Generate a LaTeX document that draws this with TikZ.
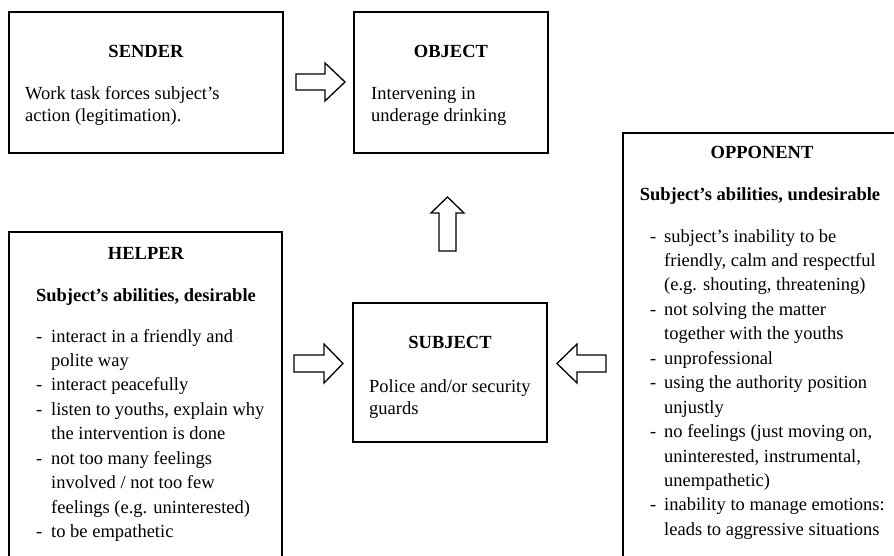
\documentclass[tikz,border=0pt]{standalone}
\usepackage{fontspec}
\setmainfont{Liberation Serif}
\begin{document}
\begin{tikzpicture}[x=1pt,y=-1pt,
  box/.style={draw, line width=1.5pt, rectangle, inner sep=0pt},
  txt/.style={font=\fontsize{18.5}{22}\selectfont, inner sep=0pt, anchor=base west},
  ttl/.style={font=\fontsize{18.5}{22}\selectfont\bfseries, inner sep=0pt, anchor=base},
  barrow/.style={draw, line width=1.3pt, line join=miter, fill=white}]
\useasboundingbox (0,0) rectangle (894,556);
\begin{scope}
\clip (0,0) rectangle (894,556);
% boxes
\node[box, minimum width=274pt, minimum height=141pt] (sender) at (146,82.5) {};
\node[box, minimum width=194pt, minimum height=141pt] (object) at (451,82.5) {};
\node[box, minimum width=194pt, minimum height=139pt] (subject) at (450,372.5) {};
\node[box, minimum width=273pt, minimum height=338pt] (helper) at (145.5,401) {};
\node[box, minimum width=275pt, minimum height=437pt] (opponent) at (760.5,351.5) {};
\end{scope}

% sender
\node[ttl] (sendert) at (146,58) {SENDER};
\node[txt] (sender1) at (25,100) {Work task forces subject’s};
\node[txt] (sender2) at (25,122) {action (legitimation).};
% object
\node[ttl] (objectt) at (451,58) {OBJECT};
\node[txt] (object1) at (371,100) {Intervening in};
\node[txt] (object2) at (371,122) {underage drinking};
% subject
\node[ttl] (subjectt) at (450,348) {SUBJECT};
\node[txt] (subject1) at (369,392) {Police and/or security};
\node[txt] (subject2) at (369,414) {guards};
% helper
\node[ttl] (helpert) at (146,259) {HELPER};
\node[ttl] (helpers) at (146,301) {Subject’s abilities, desirable};
\node[txt] (hd1) at (36,342) {-};
\node[txt] (h1) at (51,342) {interact in a friendly and};
\node[txt] (h2) at (51,366.45) {polite way};
\node[txt] (hd2) at (36,390.9) {-};
\node[txt] (h3) at (51,390.9) {interact peacefully};
\node[txt] (hd3) at (36,415.35) {-};
\node[txt] (h4) at (51,415.35) {listen to youths, explain why};
\node[txt] (h5) at (51,439.8) {the intervention is done};
\node[txt] (hd4) at (36,464.25) {-};
\node[txt] (h6) at (51,464.25) {not too many feelings};
\node[txt] (h7) at (51,488.7) {involved / not too few};
\node[txt] (h8) at (51,513.15) {feelings (e.g. uninterested)};
\node[txt] (hd5) at (36,537.6) {-};
\node[txt] (h9) at (51,537.6) {to be empathetic};
% opponent
\node[ttl] (oppt) at (762,159) {OPPONENT};
\node[ttl] (opps) at (760,201) {Subject’s abilities, undesirable};
\node[txt] (od1) at (650,242) {-};
\node[txt] (o1) at (664,242) {subject’s inability to be};
\node[txt] (o2) at (664,266.45) {friendly, calm and respectful};
\node[txt] (o3) at (664,290.9) {(e.g. shouting, threatening)};
\node[txt] (od2) at (650,315.35) {-};
\node[txt] (o4) at (664,315.35) {not solving the matter};
\node[txt] (o5) at (664,339.8) {together with the youths};
\node[txt] (od3) at (650,364.25) {-};
\node[txt] (o6) at (664,364.25) {unprofessional};
\node[txt] (od4) at (650,388.7) {-};
\node[txt] (o7) at (664,388.7) {using the authority position};
\node[txt] (o8) at (664,413.15) {unjustly};
\node[txt] (od5) at (650,437.6) {-};
\node[txt] (o9) at (664,437.6) {no feelings (just moving on,};
\node[txt] (o10) at (664,462.05) {uninterested, instrumental,};
\node[txt] (o11) at (664,486.5) {unempathetic)};
\node[txt] (od6) at (650,510.95) {-};
\node[txt] (o12) at (664,510.95) {inability to manage emotions:};
\node[txt] (o13) at (664,535.4) {leads to aggressive situations};

% block arrows
% sender -> object
\draw[barrow] (296,74) -- (325,74) -- (325,63) -- (345,82) -- (325,101) -- (325,90) -- (296,90) -- cycle;
% subject -> object (up)
\draw[barrow] (439,251) -- (439,213) -- (431,213) -- (447.5,197) -- (464,213) -- (456,213) -- (456,251) -- cycle;
% helper -> subject
\draw[barrow] (294,355) -- (324,355) -- (324,344) -- (343,363.5) -- (324,383) -- (324,372) -- (294,372) -- cycle;
% opponent -> subject
\draw[barrow] (606,355) -- (577,355) -- (577,344) -- (557,363.5) -- (577,383) -- (577,372) -- (606,372) -- cycle;
\end{tikzpicture}
\end{document}
